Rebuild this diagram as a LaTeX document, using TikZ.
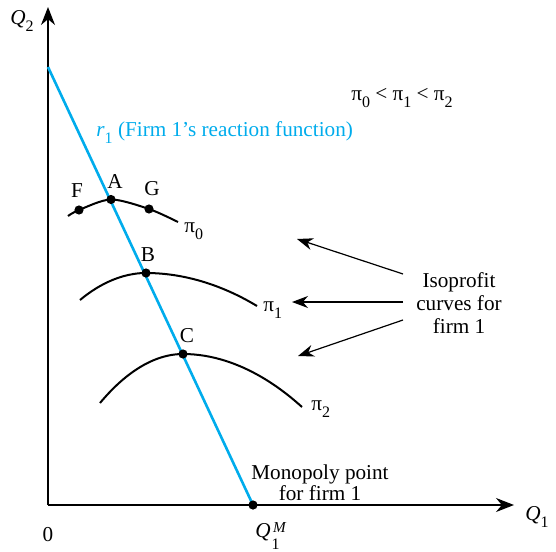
\documentclass[tikz,border=0pt]{standalone}
\usepackage{fontspec}
\setmainfont{Liberation Serif}
\usetikzlibrary{arrows.meta}
\definecolor{rblue}{RGB}{0,172,236}
\newcommand\lowsub[1]{\raisebox{-3.5pt}{\fontsize{8}{9}\selectfont #1}}
\newcommand\qonem{\textit{Q}\rlap{\raisebox{2.2pt}{\fontsize{7.6}{8}\selectfont\,\textit{M}}}\raisebox{-6pt}{\fontsize{8}{9}\selectfont\kern0.5pt 1}}
\tikzset{
  dot/.style={circle,fill=black,inner sep=0pt,minimum size=4.6pt},
  isocurve/.style={line width=1pt},
  axis/.style={line width=0.75pt,-{Stealth[length=9pt,width=7pt]}},
  pointer/.style={line width=0.6pt,-{Stealth[length=8pt,width=6pt]}},
  lbl/.style={inner sep=0pt},
}
\begin{document}
\begin{tikzpicture}[x=0.5pt,y=-0.5pt,font=\fontsize{10.6}{12.7}\selectfont]
\useasboundingbox (0,0) rectangle (556,551);
% axes
\coordinate (O) at (48,505);
\coordinate (Ytop) at (48,7);
\coordinate (Xend) at (514,505);
\draw[axis] (O) -- (Ytop);
\draw[axis] (O) -- (Xend);
% reaction function
\coordinate (R0) at (48,67);
\coordinate (Mp) at (253,505);
\draw[rblue,line width=1.3pt] (R0) -- (Mp);
% isoprofit curves
\draw[isocurve] plot[smooth] coordinates {(68,216) (79,210) (111,199.5) (149,209) (178,222)};
\draw[isocurve] (80,300) parabola bend (146,273) (257,306);
\draw[isocurve] (100,403) parabola bend (183,354) (302,407);
% dots
\node[dot] (F) at (79,210) {};
\node[dot] (A) at (111,199.5) {};
\node[dot] (G) at (149,209) {};
\node[dot] (B) at (146,273) {};
\node[dot] (C) at (183,354) {};
\node[dot] (M) at (253,505) {};
% point labels
\node[lbl] (Fl) at (77,191) {F};
\node[lbl] (Al) at (115,182) {A};
\node[lbl] (Gl) at (152,189) {G};
\node[lbl] (Bl) at (148,255) {B};
\node[lbl] (Cl) at (187,336) {C};
% curve labels
\node[lbl,anchor=base west] (p0) at (184,232) {π\lowsub{0}};
\node[lbl,anchor=base west] (p1) at (263,311) {π\lowsub{1}};
\node[lbl,anchor=base west] (p2) at (311,410) {π\lowsub{2}};
% axis labels
\node[lbl,anchor=base west] (q2) at (10,25) {\textit{Q}\lowsub{2}};
\node[lbl,anchor=base west] (q1) at (525,520) {\textit{Q}\lowsub{1}};
\node[lbl,anchor=base west] (qm) at (255,537) {\qonem};
\node[lbl,anchor=base] (zero) at (48,541) {0};
% texts
\node[lbl,anchor=base] (ineq) at (402,100) {π\lowsub{0} < π\lowsub{1} < π\lowsub{2}};
\node[lbl,anchor=base west,text=rblue] (rl) at (96,136) {\textit{r}\lowsub{1} (Firm 1’s reaction function)};
\node[lbl,align=center,font=\fontsize{10.6}{10.5}\selectfont] (mono) at (320,483) {Monopoly point\\for firm 1};
\node[lbl,align=center,font=\fontsize{10.6}{11.6}\selectfont] (iso) at (459,303) {Isoprofit\\curves for\\firm 1};
% pointers
\coordinate (a1s) at (403,274);
\coordinate (a2s) at (403,302);
\coordinate (a3s) at (403,320);
\coordinate (a1e) at (297,239);
\coordinate (a2e) at (292,302);
\coordinate (a3e) at (298,356);
\draw[pointer] (a1s) -- (a1e);
\draw[pointer] (a2s) -- (a2e);
\draw[pointer] (a3s) -- (a3e);
\end{tikzpicture}
\end{document}
